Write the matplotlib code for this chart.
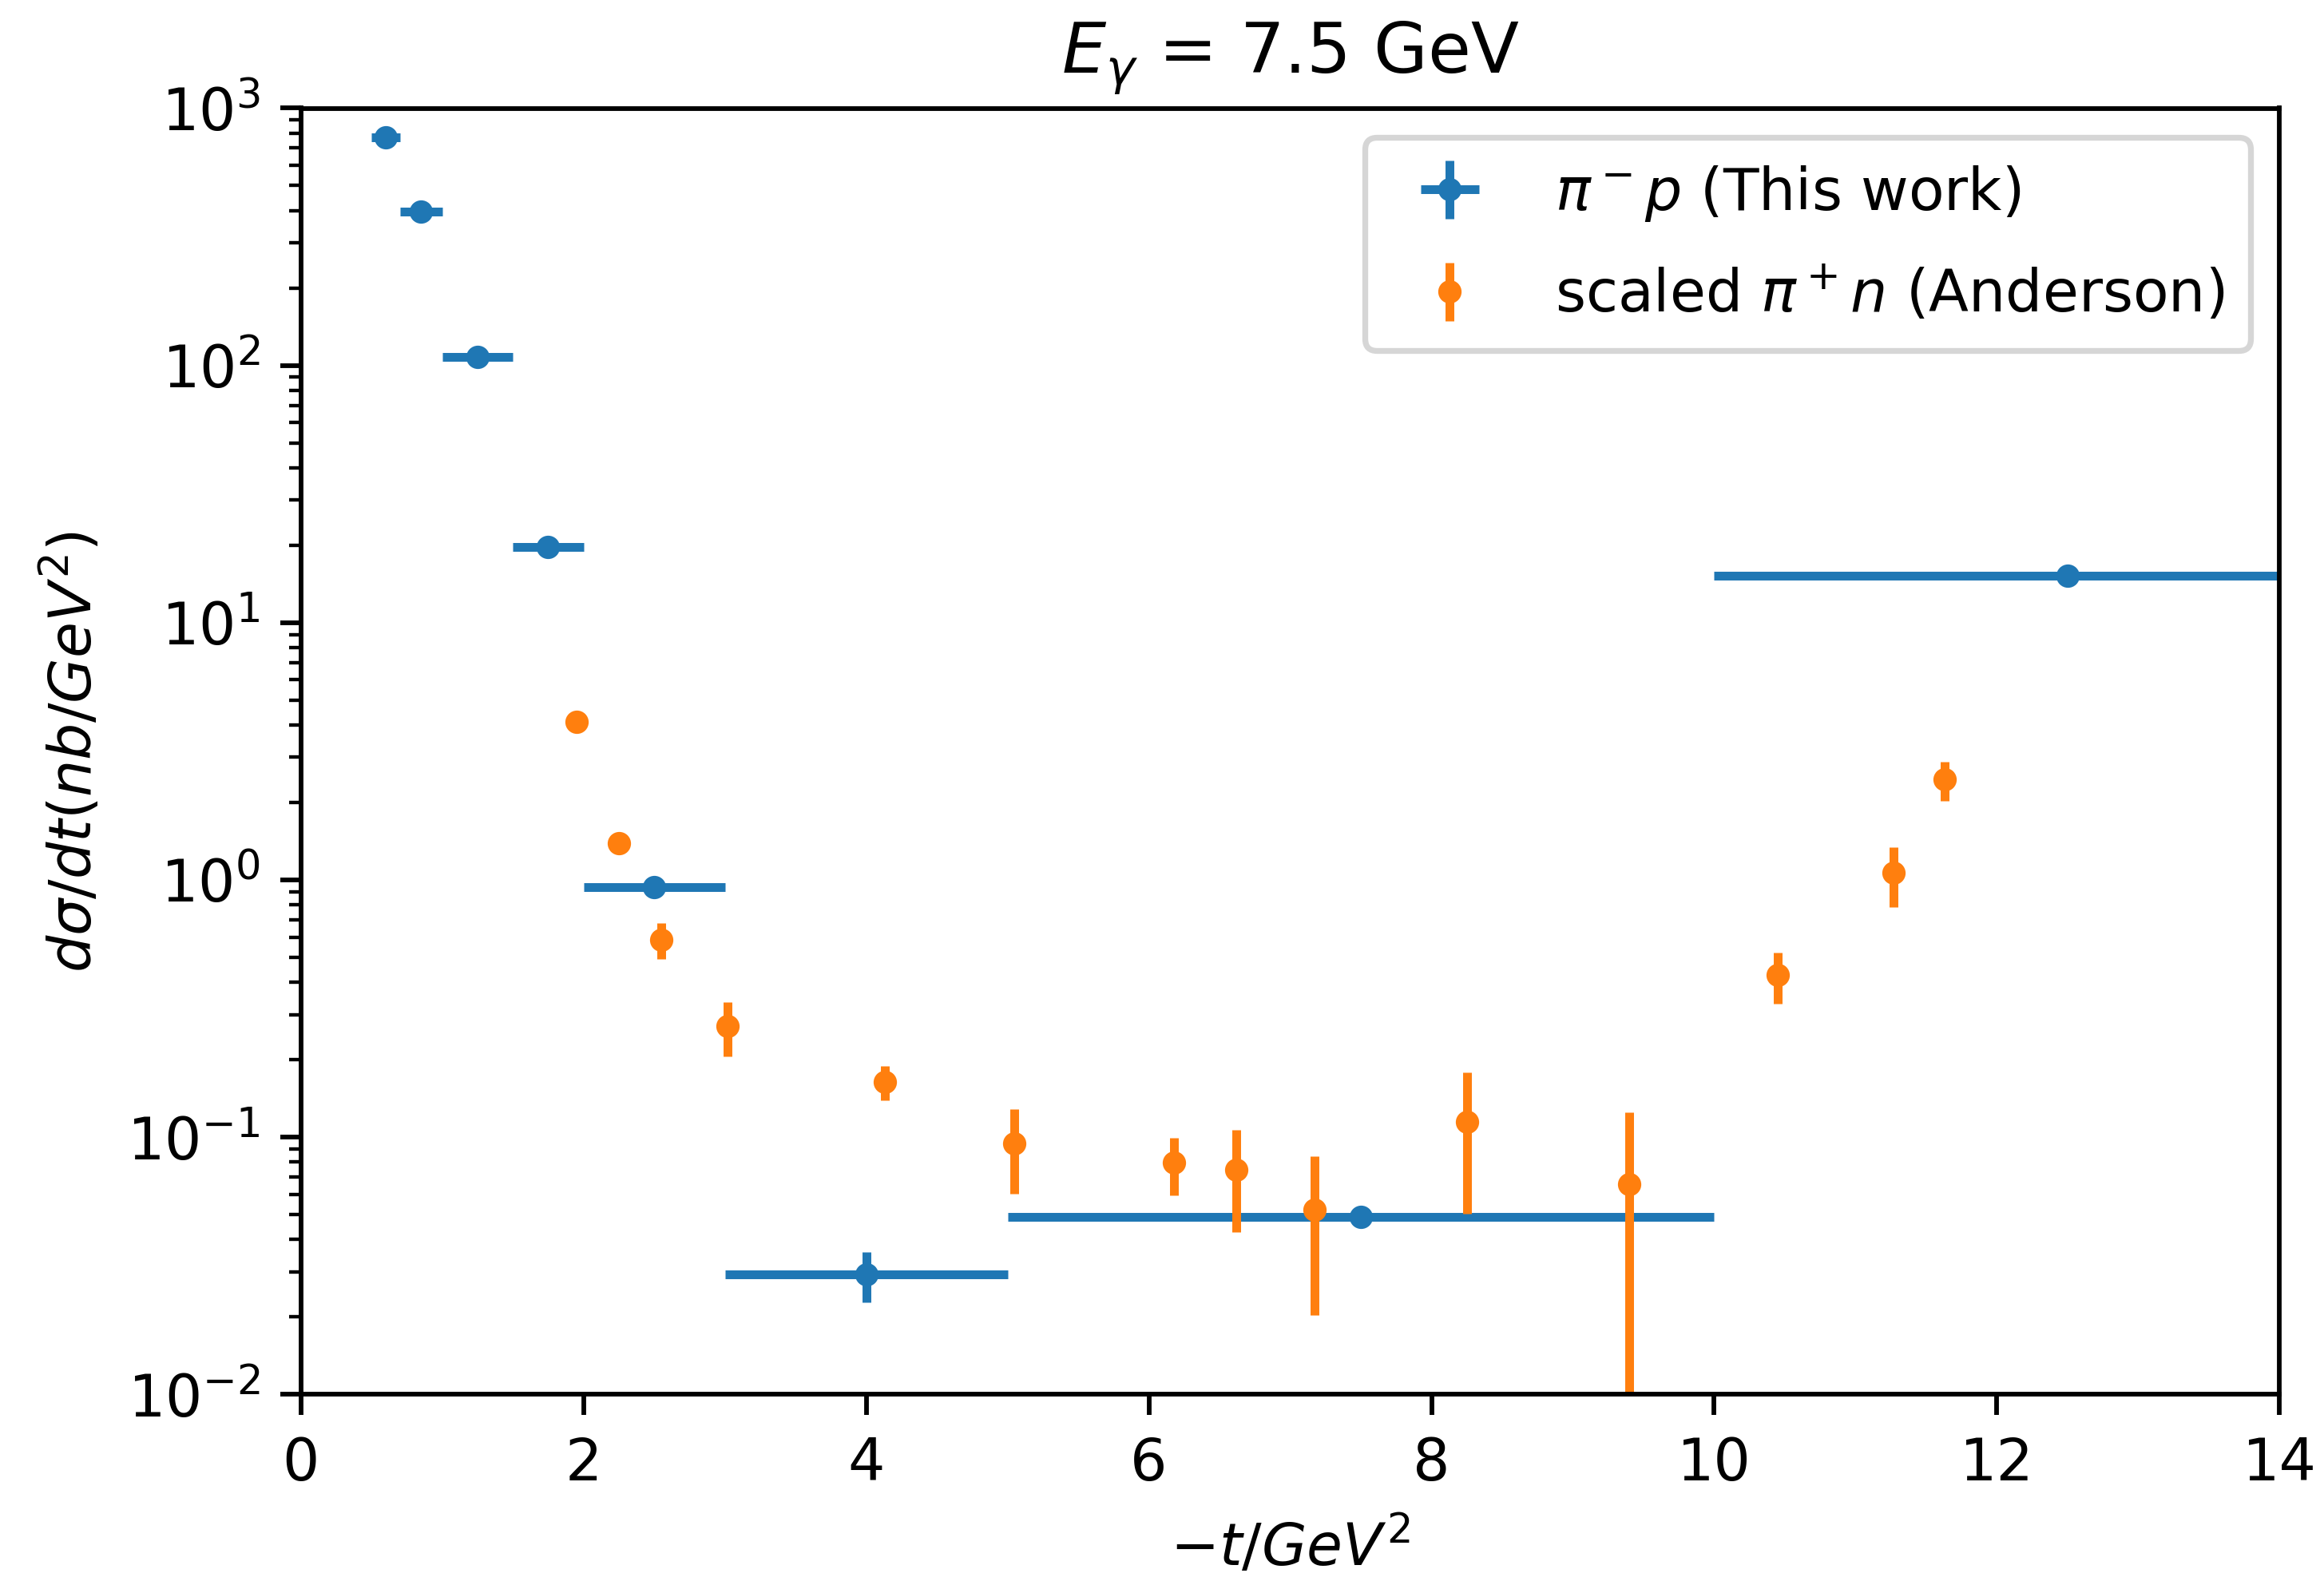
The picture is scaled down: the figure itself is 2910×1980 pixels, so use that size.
"""
pi- p differential cross section at E_gamma = 7.5 GeV, compared with scaled pi+ n
"""

import numpy as np
import matplotlib
matplotlib.use('Agg')
import matplotlib.pyplot as plt

#------------------------------------------------------------------------------
# pi- p (this work), binned in -t

t_pim = [0.6, 0.85, 1.25, 1.75, 2.5, 4.0, 7.5, 12.5]
t_pim_err = [0.1, 0.15, 0.25, 0.25, 0.5, 1.0, 2.5, 2.5]
xs_pim = [769., 396., 108., 19.7, 0.935, 0.0293, 0.049, 15.2]
xs_pim_err = [20., 12., 3., 0.6, 0.03, 0.0065, 0.0015, 0.4]

#------------------------------------------------------------------------------
# scaled pi+ n (Anderson)

t_pip = [1.95, 2.25, 2.55, 3.02, 4.13, 5.05, 6.18, 6.62, 7.17, 8.25, 9.40,
         10.45, 11.27, 11.63]
xs_pip = [4.13, 1.39, 0.587, 0.271, 0.164, 0.0944, 0.0796, 0.0749, 0.0524,
          0.1146, 0.0658, 0.426, 1.065, 2.46]
xs_pip_err = [0.1, 0.04, 0.095, 0.065, 0.025, 0.034, 0.02, 0.032, 0.032,
              0.064, 0.059, 0.095, 0.28, 0.43]

#------------------------------------------------------------------------------

dpi = 526
fig = plt.figure(figsize=[2910/dpi, 1980/dpi], dpi=dpi)
ax = fig.add_axes([376.7/2910, 1 - 1746.4/1980,
                   (2854.4 - 376.7)/2910, (1746.4 - 135.5)/1980])

ax.errorbar(t_pim, xs_pim, xerr=t_pim_err, yerr=xs_pim_err, fmt='.',
            label=r'$\pi^-p$ (This work)')
ax.errorbar(t_pip, xs_pip, yerr=xs_pip_err, fmt='.',
            label=r'scaled $\pi^+n$ (Anderson)')

ax.set_yscale('log')
ax.set_xlim(0, 14)
ax.set_ylim(1.e-2, 1.e3)

ax.set_xlabel(r'$-t/GeV^2$')
ax.set_ylabel(r'$d\sigma/dt(nb/GeV^2)$')
ax.set_title(r'$E_\gamma$ = 7.5 GeV')
ax.legend(loc='upper right', labelspacing=0.72, borderpad=0.45)

#------------------------------------------------------------------------------

fig.savefig('out.png', dpi=dpi)
